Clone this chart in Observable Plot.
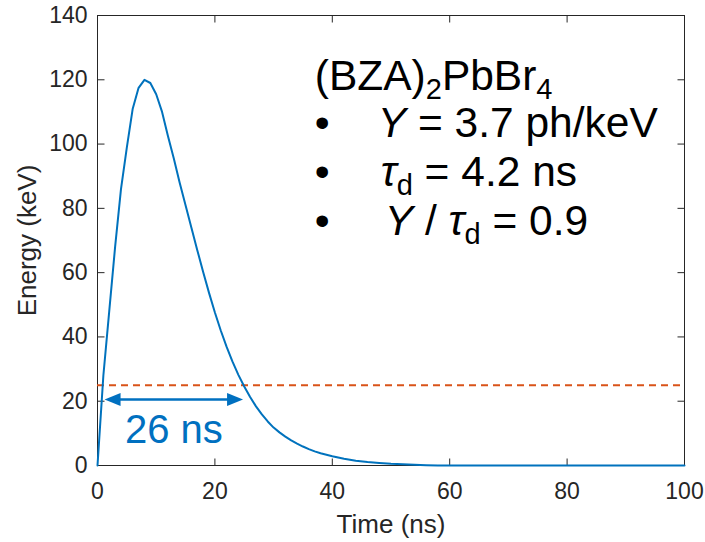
<!DOCTYPE html>
<html><head><meta charset="utf-8">
<script src="https://cdn.jsdelivr.net/npm/d3@7"></script>
<script src="https://cdn.jsdelivr.net/npm/@observablehq/plot@0.6"></script>
<style>body{margin:0;background:#fff}svg{display:block}</style>
</head><body><div id="chart"></div>
<script>
// ---- data ----
const timeNs = [0,1,2,3,4,5,6,7,8,9,10,11,12,13,14,15,16,17,18,19,20,21,22,23,24,25,26,27,28,29,30,31,32,33,34,35,36,37,38,40,42,44,46,48,50,53,56,58,100];
const energyKeV = [0,28,48,68,86,99,111,117.5,120,119,115.5,110,102.5,95.5,88,81,74,67,60.2,53.7,47.6,42,36.9,32.3,28.2,24.6,21.3,18.4,15.9,13.7,11.8,10.3,9.0,7.8,6.8,5.9,5.1,4.4,3.8,2.9,2.1,1.5,1.1,0.8,0.55,0.3,0.1,0,0];
const thresholdKeV = [25];
const fwhmStartNs = [1.2];
const fwhmEndNs = [24.8];
const fwhmLevelKeV = [20.5];
const fwhmLabel = ["26 ns"];
const xTicks = [0,20,40,60,80,100];
const yTicks = [0,20,40,60,80,100,120,140];
const xLabel = "Time (ns)";
const yLabel = "Energy (keV)";
const compoundParts = ["(BZA)", "2", "PbBr", "4"];
const yieldText = ["Y", " = 3.7 ph/keV"];
const decayText = ["\u03C4", "d", " = 4.2 ns"];
const ratioText = ["Y", " / ", "\u03C4", "d", " = 0.9"];

// ---- layout / style ----
const FONT = "'Liberation Sans', Arial, Helvetica, sans-serif";
const AX = "#262626";
const BLUE = "#0072BD";
const ARROW = "#0070C0";
const ORANGE = "#D95319";
const curve = timeNs.map((t, i) => ({t, e: energyKeV[i]}));

const headRight = {draw(c){ c.moveTo(0,0); c.lineTo(-16,-6.5); c.lineTo(-16,6.5); c.closePath(); }};
const headLeft  = {draw(c){ c.moveTo(0,0); c.lineTo(16,-6.5); c.lineTo(16,6.5); c.closePath(); }};
const tickUp    = {draw(c){ c.moveTo(0,0); c.lineTo(0,-7); }};
const tickDown  = {draw(c){ c.moveTo(0,0); c.lineTo(0,7); }};
const tickRight = {draw(c){ c.moveTo(0,0); c.lineTo(7,0); }};
const tickLeft  = {draw(c){ c.moveTo(0,0); c.lineTo(-7,0); }};

function annotation(index, scales) {
  const ax = scales.x(37.1), ay = scales.y(116.8);
  const g = d3.create("svg:g").attr("font-family", FONT).attr("font-size", 42.5)
    .attr("fill", "#000").attr("text-anchor", "start");
  const SUB = 29, SUBDY = 9.5;
  // title
  const t1 = g.append("text").attr("x", ax).attr("y", ay);
  t1.append("tspan").text(compoundParts[0]);
  t1.append("tspan").attr("font-size", SUB).attr("dy", SUBDY).text(compoundParts[1]);
  t1.append("tspan").attr("dy", -SUBDY).text(compoundParts[2]);
  t1.append("tspan").attr("font-size", SUB).attr("dy", SUBDY).text(compoundParts[3]);
  const lines = [ay + 47, ay + 96, ay + 145];
  lines.forEach(by => g.append("text").attr("x", ax).attr("y", by).text("\u2022"));
  // line 2
  const t2 = g.append("text").attr("x", ax + 63).attr("y", lines[0]);
  t2.append("tspan").attr("font-style", "italic").text(yieldText[0]);
  t2.append("tspan").text(yieldText[1]);
  // line 3
  const t3 = g.append("text").attr("x", ax + 66).attr("y", lines[1]);
  t3.append("tspan").attr("font-style", "italic").text(decayText[0]);
  t3.append("tspan").attr("font-size", SUB).attr("dy", SUBDY).text(decayText[1]);
  t3.append("tspan").attr("dy", -SUBDY).text(decayText[2]);
  // line 4
  const t4 = g.append("text").attr("x", ax + 70).attr("y", lines[2]);
  t4.append("tspan").attr("font-style", "italic").text(ratioText[0]);
  t4.append("tspan").text(ratioText[1]);
  t4.append("tspan").attr("font-style", "italic").text(ratioText[2]);
  t4.append("tspan").attr("font-size", SUB).attr("dy", SUBDY).text(ratioText[3]);
  t4.append("tspan").attr("dy", -SUBDY).text(ratioText[4]);
  return g.node();
}

const chart = Plot.plot({
  width: 705, height: 542,
  marginLeft: 97, marginRight: 21, marginTop: 15, marginBottom: 77,
  x: {domain: [0, 100]},
  y: {domain: [0, 140]},
  style: {fontFamily: FONT, color: AX, background: "#fff", overflow: "visible"},
  marks: [
    Plot.frame({stroke: AX, strokeWidth: 1}),
    Plot.axisX({ticks: xTicks, tickSize: 0, tickPadding: 17, label: null, fontSize: 23, fill: AX}),
    Plot.axisY({ticks: yTicks, tickSize: 0, tickPadding: 10, label: null, fontSize: 23, fill: AX}),
    Plot.dot(xTicks, {x: d => d, y: () => 0, symbol: tickUp, fill: "none", stroke: AX, strokeWidth: 1}),
    Plot.dot(xTicks, {x: d => d, y: () => 140, symbol: tickDown, fill: "none", stroke: AX, strokeWidth: 1}),
    Plot.dot(yTicks, {x: () => 0, y: d => d, symbol: tickRight, fill: "none", stroke: AX, strokeWidth: 1}),
    Plot.dot(yTicks, {x: () => 100, y: d => d, symbol: tickLeft, fill: "none", stroke: AX, strokeWidth: 1}),
    Plot.text([xLabel], {frameAnchor: "bottom", textAnchor: "middle", lineAnchor: "bottom", dy: 67, fontSize: 26, fill: AX}),
    Plot.text([yLabel], {frameAnchor: "left", textAnchor: "middle", lineAnchor: "middle", dx: -70, rotate: -90, fontSize: 26, fill: AX}),
    Plot.ruleY(thresholdKeV, {y: d => d, stroke: ORANGE, strokeWidth: 2, strokeDasharray: "7,5"}),
    Plot.line(curve, {x: "t", y: "e", stroke: BLUE, strokeWidth: 2}),
    Plot.link(fwhmLevelKeV, {x1: () => fwhmStartNs[0] + 2, x2: () => fwhmEndNs[0] - 2, y1: d => d, y2: d => d, stroke: ARROW, strokeWidth: 2.5}),
    Plot.dot(fwhmLevelKeV, {x: () => fwhmStartNs[0], y: d => d, symbol: headLeft, fill: ARROW, stroke: "none"}),
    Plot.dot(fwhmLevelKeV, {x: () => fwhmEndNs[0], y: d => d, symbol: headRight, fill: ARROW, stroke: "none"}),
    Plot.text(fwhmLabel, {x: () => 13, y: () => 11, fontSize: 40, fill: ARROW}),
    annotation
  ]
});
document.getElementById("chart").appendChild(chart);
</script>
</body></html>
